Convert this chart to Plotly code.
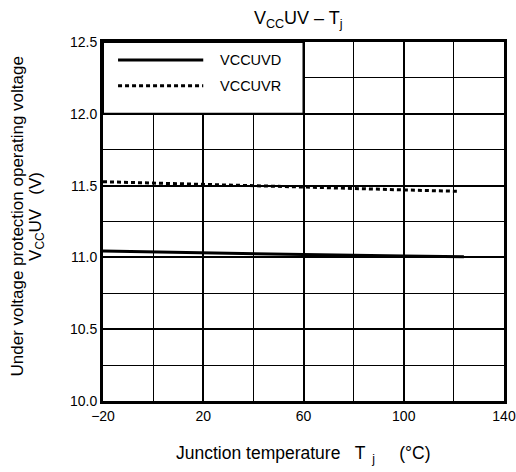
import plotly.graph_objects as go

# Junction temperature (°C) and under-voltage thresholds (V)
temp_uvd = [-20, 20, 60, 100, 124]
vccuvd = [11.045, 11.03, 11.02, 11.01, 11.005]

temp_uvr = [-20, 20, 60, 100, 122]
vccuvr = [11.527, 11.51, 11.49, 11.47, 11.46]

x_major = [-20, 20, 60, 100, 140]
x_major_text = ["\u221220", "20", "60", "100", "140"]
x_minor = [0, 40, 80, 120]
y_major = [10.0, 10.5, 11.0, 11.5, 12.0, 12.5]
y_major_text = ["10.0", "10.5", "11.0", "11.5", "12.0", "12.5"]
y_minor = [10.25, 10.75, 11.25, 11.75, 12.25]

FONT = "Liberation Sans, Arial, sans-serif"

fig = go.Figure()
fig.add_trace(go.Scatter(x=temp_uvd, y=vccuvd, mode="lines", name="VCCUVD",
                         line=dict(color="black", width=3), showlegend=False))
fig.add_trace(go.Scatter(x=temp_uvr, y=vccuvr, mode="lines", name="VCCUVR",
                         line=dict(color="black", width=3, dash="4px,3px"),
                         showlegend=False))

# legend panel in the upper-left cells
fig.add_shape(type="rect", xref="x", yref="y", x0=-20, x1=60, y0=12.0, y1=12.5,
              fillcolor="white", line=dict(color="black", width=2), layer="between")
fig.add_shape(type="line", xref="x", yref="y", x0=-14, x1=20, y0=12.375, y1=12.375,
              line=dict(color="black", width=3))
fig.add_shape(type="line", xref="x", yref="y", x0=-14, x1=20, y0=12.195, y1=12.195,
              line=dict(color="black", width=3, dash="4px,3px"))
fig.add_annotation(x=26.0, y=12.375, xref="x", yref="y", text="VCCUVD",
                   showarrow=False, xanchor="left", yanchor="middle",
                   font=dict(size=14.5, color="black", family=FONT))
fig.add_annotation(x=26.0, y=12.195, xref="x", yref="y", text="VCCUVR",
                   showarrow=False, xanchor="left", yanchor="middle",
                   font=dict(size=14.5, color="black", family=FONT))

# axis titles
fig.add_annotation(text="Junction temperature   T<sub>  j</sub>     (°C)",
                   x=0.5, y=-0.15, xref="paper", yref="paper",
                   xanchor="center", yanchor="middle",
                   showarrow=False, font=dict(size=17.5, color="black", family=FONT))
fig.add_annotation(text="Under voltage protection operating voltage",
                   x=-0.2145, y=0.514, xref="paper", yref="paper", textangle=-90,
                   xanchor="center", yanchor="middle", showarrow=False,
                   font=dict(size=17, color="black", family=FONT))
fig.add_annotation(text="V<sub>CC</sub>UV   (V)",
                   x=-0.165, y=0.515, xref="paper", yref="paper", textangle=-90,
                   xanchor="center", yanchor="middle", showarrow=False,
                   font=dict(size=17, color="black", family=FONT))

fig.update_layout(
    width=516, height=472,
    margin=dict(l=103, r=12, t=42, b=71, autoexpand=False),
    paper_bgcolor="white", plot_bgcolor="white",
    font=dict(family=FONT, size=14, color="black"),
    title=dict(text="V<sub>CC</sub>UV \u2013 T<sub>j</sub>", x=0.578, xanchor="center",
               y=0.962, yanchor="middle", font=dict(size=18, color="black", family=FONT)),
    xaxis=dict(range=[-20, 140], tickmode="array", tickvals=x_major, ticktext=x_major_text,
               showgrid=True, gridcolor="black", gridwidth=2, zeroline=False,
               showline=True, linecolor="black", linewidth=3, mirror=True, ticks="",
               automargin=False,
               minor=dict(tickvals=x_minor, showgrid=True, gridcolor="black", gridwidth=1),
               tickfont=dict(size=14)),
    yaxis=dict(range=[10.0, 12.5], tickmode="array", tickvals=y_major, ticktext=y_major_text,
               showgrid=True, gridcolor="black", gridwidth=2, zeroline=False,
               showline=True, linecolor="black", linewidth=3, mirror=True, ticks="",
               automargin=False,
               minor=dict(tickvals=y_minor, showgrid=True, gridcolor="black", gridwidth=1),
               tickfont=dict(size=14)),
)

fig.write_html("out.html")
